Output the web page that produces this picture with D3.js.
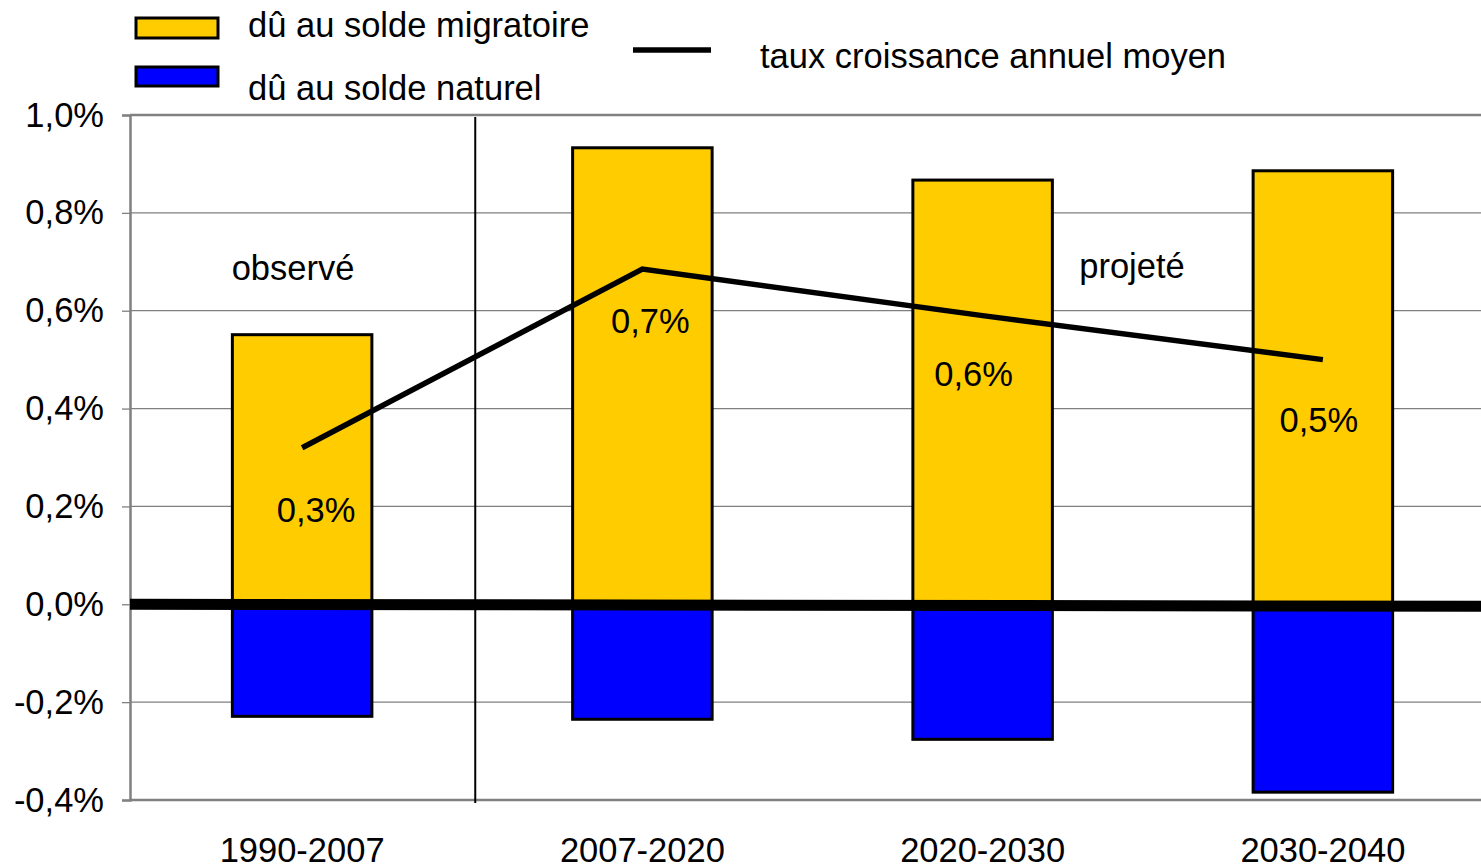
<!DOCTYPE html>
<html>
<head>
<meta charset="utf-8">
<script src="https://cdn.jsdelivr.net/npm/d3@7"></script>
<style>
  body { margin: 0; background: #fff; }
  svg { display: block; font-family: "Liberation Sans", Arial, sans-serif; }
</style>
</head>
<body>
<div id="chart"></div>
<script>
const periods = ["1990-2007", "2007-2020", "2020-2030", "2030-2040"];
const migratoire = [0.551, 0.933, 0.867, 0.886];   // dû au solde migratoire
const naturel = [-0.229, -0.235, -0.276, -0.384];  // dû au solde naturel
const tauxMoyen = [0.32, 0.685, 0.59, 0.50];       // taux croissance annuel moyen
const tauxLabels = ["0,3%", "0,7%", "0,6%", "0,5%"];
const yTicks = [-0.4, -0.2, 0, 0.2, 0.4, 0.6, 0.8, 1.0];

const width = 1481;
const height = 865;
const margin = {top: 115, right: -12, bottom: 65, left: 130};
const fontSize = 34.5;

const x = d3.scaleBand()
  .domain(periods)
  .range([margin.left + 2, width - margin.right])
  .paddingInner(0.59)
  .paddingOuter(0.295);

const y = d3.scaleLinear()
  .domain([-0.4, 1.0])
  .range([height - margin.bottom, margin.top]);

const fmt = v => d3.format(".1f")(v).replace(".", ",").replace("−", "-") + "%";

const svg = d3.select("#chart")
  .append("svg")
  .attr("width", width)
  .attr("height", height);

// gridlines
svg.append("g")
  .selectAll("line")
  .data(yTicks)
  .join("line")
  .attr("x1", margin.left)
  .attr("x2", width)
  .attr("y1", d => y(d))
  .attr("y2", d => y(d))
  .attr("stroke", "#808080")
  .attr("stroke-width", d => (d === 1.0 || d === -0.4) ? 2.5 : 1.3);

// y axis
const yAxis = svg.append("g")
  .attr("transform", `translate(${margin.left},0)`)
  .call(d3.axisLeft(y).tickValues(yTicks).tickFormat(fmt).tickSize(8).tickPadding(18));
yAxis.select(".domain").attr("stroke", "#808080").attr("stroke-width", 2.5);
yAxis.selectAll(".tick line").attr("stroke", "#808080").attr("stroke-width", 1.3);
yAxis.selectAll("text")
  .attr("font-size", fontSize)
  .attr("fill", "#000")
  .attr("font-family", "Liberation Sans, Arial, sans-serif");

// bars
svg.append("g")
  .selectAll("rect")
  .data(periods)
  .join("rect")
  .attr("x", d => x(d))
  .attr("width", x.bandwidth())
  .attr("y", (d, i) => y(migratoire[i]))
  .attr("height", (d, i) => y(0) - y(migratoire[i]))
  .attr("fill", "#ffcc00")
  .attr("stroke", "#000")
  .attr("stroke-width", 3);

svg.append("g")
  .selectAll("rect")
  .data(periods)
  .join("rect")
  .attr("x", d => x(d))
  .attr("width", x.bandwidth())
  .attr("y", y(0))
  .attr("height", (d, i) => y(naturel[i]) - y(0))
  .attr("fill", "#0000ff")
  .attr("stroke", "#000")
  .attr("stroke-width", 3);

// zero line
svg.append("line")
  .attr("x1", margin.left)
  .attr("x2", width)
  .attr("y1", y(0))
  .attr("y2", y(0) + 2)
  .attr("stroke", "#000")
  .attr("stroke-width", 11);

// separator observé / projeté
const sepX = (x(periods[0]) + x.bandwidth() + x(periods[1])) / 2 + 3;
svg.append("line")
  .attr("x1", sepX)
  .attr("x2", sepX)
  .attr("y1", y(1.0) + 2)
  .attr("y2", y(-0.4) + 3)
  .attr("stroke", "#000")
  .attr("stroke-width", 2);

// growth line
const line = d3.line()
  .x((d, i) => x(periods[i]) + x.bandwidth() / 2)
  .y(d => y(d));

svg.append("path")
  .datum(tauxMoyen)
  .attr("d", line)
  .attr("fill", "none")
  .attr("stroke", "#000")
  .attr("stroke-width", 5.5);

// label nudges relative to the line points
const nudgeX = [14, 8, -9, -4];
const nudgeY = [74, 64, 70, 72];
svg.append("g")
  .selectAll("text")
  .data(tauxMoyen)
  .join("text")
  .attr("x", (d, i) => x(periods[i]) + x.bandwidth() / 2 + nudgeX[i])
  .attr("y", (d, i) => y(d) + nudgeY[i])
  .attr("text-anchor", "middle")
  .attr("font-size", fontSize)
  .text((d, i) => tauxLabels[i]);

// category labels
svg.append("g")
  .selectAll("text")
  .data(periods)
  .join("text")
  .attr("x", d => x(d) + x.bandwidth() / 2)
  .attr("y", 862)
  .attr("text-anchor", "middle")
  .attr("font-size", fontSize)
  .text(d => d);

// annotations
svg.append("text")
  .attr("x", 293).attr("y", 280)
  .attr("text-anchor", "middle")
  .attr("font-size", fontSize)
  .text("observé");
svg.append("text")
  .attr("x", 1132).attr("y", 278)
  .attr("text-anchor", "middle")
  .attr("font-size", fontSize)
  .text("projeté");

// legend
const legend = svg.append("g");
legend.append("rect")
  .attr("x", 136).attr("y", 18).attr("width", 82).attr("height", 20)
  .attr("fill", "#ffcc00").attr("stroke", "#000").attr("stroke-width", 3);
legend.append("text")
  .attr("x", 248).attr("y", 37).attr("font-size", fontSize)
  .text("dû au solde migratoire");
legend.append("rect")
  .attr("x", 136).attr("y", 67).attr("width", 82).attr("height", 19)
  .attr("fill", "#0000ff").attr("stroke", "#000").attr("stroke-width", 3);
legend.append("text")
  .attr("x", 248).attr("y", 100).attr("font-size", fontSize)
  .text("dû au solde naturel");
legend.append("line")
  .attr("x1", 633).attr("x2", 711).attr("y1", 50).attr("y2", 50)
  .attr("stroke", "#000").attr("stroke-width", 5.5);
legend.append("text")
  .attr("x", 760).attr("y", 68).attr("font-size", fontSize)
  .text("taux croissance annuel moyen");
</script>
</body>
</html>
